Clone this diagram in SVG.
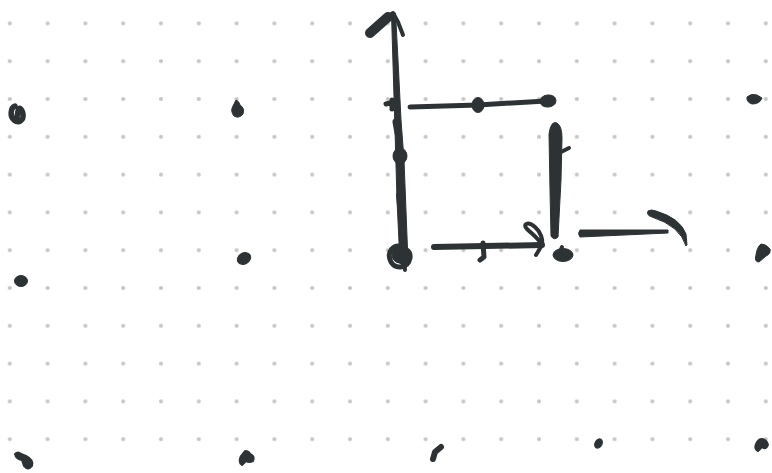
<svg xmlns="http://www.w3.org/2000/svg" width="772" height="473" viewBox="0 0 772 473">
  <defs>
    <pattern id="grid" x="-9.1" y="4.5" width="37.8" height="37.8" patternUnits="userSpaceOnUse">
      <circle cx="18.9" cy="18.9" r="2.1" fill="#c6c6c6"/>
    </pattern>
  </defs>
  <style>
    .ink { fill: none; stroke: #2d3335; stroke-linecap: round; stroke-linejoin: round; }
    .blob { fill: #2d3335; stroke: #2d3335; stroke-linejoin: round; }
  </style>
  <rect width="772" height="473" fill="#ffffff"/>
  <rect width="772" height="473" fill="url(#grid)"/>

  <g id="connectors">
    <!-- vertical axis arrow -->
    <g id="axis">
      <path class="blob" stroke-width="1" d="M391.5,14 L395.5,13 L398,60 L401,120 L404,160 L408,262 L400,263 L397,200 L395,130 Z"/>
      <path class="ink" stroke-width="10" d="M370,33 L388,17"/>
      <path class="ink" stroke-width="4" d="M386,18 L393,13 L398,22 L403,35"/>
      <path class="ink" stroke-width="5" d="M386,104 L394,102 M392,100 L392,109"/>
      <path class="ink" stroke-width="7" d="M396,122 L398,133"/>
      <ellipse class="blob" cx="400" cy="156" rx="7" ry="8"/>
      <path class="ink" stroke-width="6" d="M399,195 L400,205"/>
      <path class="ink" stroke-width="5" d="M404,247 C393,243 386,252 391,262 C396,270 408,268 410,258 C411,250 403,246 398,252 C395,256 398,262 404,262"/>
      <ellipse class="blob" cx="400" cy="255" rx="8" ry="8"/>
      <path class="ink" stroke-width="4" d="M404,262 L405,270"/>
    </g>
    <!-- top horizontal line -->
    <g id="top-line">
      <path class="ink" stroke-width="5" d="M410,107 L478,105 L546,101"/>
      <ellipse class="blob" cx="478" cy="105" rx="6" ry="7.5"/>
      <ellipse class="blob" cx="548" cy="101" rx="8" ry="6" transform="rotate(-5 548 101)"/>
    </g>
    <!-- right vertical thick line -->
    <g id="right-line">
      <path class="blob" stroke-width="1" d="M549,134 Q551,120 557,123 Q562,126 562,138 L561,180 L558,237 Q554,241 551,236 L550,190 Z"/>
      <path class="ink" stroke-width="4" d="M561,152 L569,148"/>
      <ellipse class="blob" cx="563" cy="255" rx="10" ry="6.5"/>
      <path class="ink" stroke-width="4" d="M560,252 L562,247"/>
    </g>
    <!-- bottom horizontal arrow -->
    <g id="bottom-arrow">
      <path class="ink" stroke-width="6" d="M434,247 L542,245"/>
      <path class="ink" stroke-width="4" d="M542,245 C538,238 532,234 527,229 C522,224 528,221 535,227 C541,232 543,240 542,245 L536,255"/>
      <path class="ink" stroke-width="5" d="M483,243 L484,257 L480,260"/>
    </g>
    <!-- right short arrow -->
    <g id="right-arrow">
      <path class="blob" stroke-width="1" d="M580,230 L668,230 L668,233 L580,237 Q577,233.5 580,230 Z"/>
      <path class="blob" stroke-width="1" d="M648,211 Q651,209 656,211 Q680,218 686,234 L687,245 L686,246 Q680,226 652,217 Q646,215 648,211 Z"/>
    </g>
  </g>

  <!-- scattered marks -->
  <g id="marks">
    <path class="ink" stroke-width="5.5" d="M15,106 C10,108 10,117 14,120 C19,124 24,120 23,114 C22,109 19,106 18,111 L17,117"/>
    <path class="blob" stroke-width="1" d="M236,100 Q239,101 240,105 Q245,108 243,114 Q239,119 234,116 Q230,111 233,106 Z"/>
    <ellipse class="blob" cx="244" cy="258.5" rx="7" ry="5.5" transform="rotate(-30 244 258.5)"/>
    <ellipse class="blob" cx="21" cy="281" rx="6.5" ry="5.5"/>
    <path class="blob" stroke-width="1" d="M747,97 Q751,93 757,95 L762,98 Q760,104 752,104 Q746,102 747,97 Z"/>
    <path class="blob" stroke-width="1" d="M761,244 Q766,244 770,249 Q771,254 766,256 L759,262 Q754,262 756,255 Q757,247 761,244 Z"/>
    <path class="blob" stroke-width="2" d="M15,454 Q18,451 21,454 L26,456 Q34,460 32,466 Q28,471 24,466 L22,460 Q16,459 15,454 Z"/>
    <path class="blob" stroke-width="2" d="M245,451 Q249,451 250,454 Q255,456 253,461 Q249,463 246,461 L242,465 Q238,462 241,456 Z"/>
    <path class="ink" stroke-width="6" d="M441,447 L435,452 L433,459"/>
    <ellipse class="blob" cx="598.5" cy="443.5" rx="3.5" ry="5" transform="rotate(30 598.5 443.5)"/>
    <path class="blob" stroke-width="2" d="M762,439 Q767,440 768,445 Q766,450 762,447 L758,451 Q754,449 756,444 Q758,439 762,439 Z"/>
  </g>
</svg>
